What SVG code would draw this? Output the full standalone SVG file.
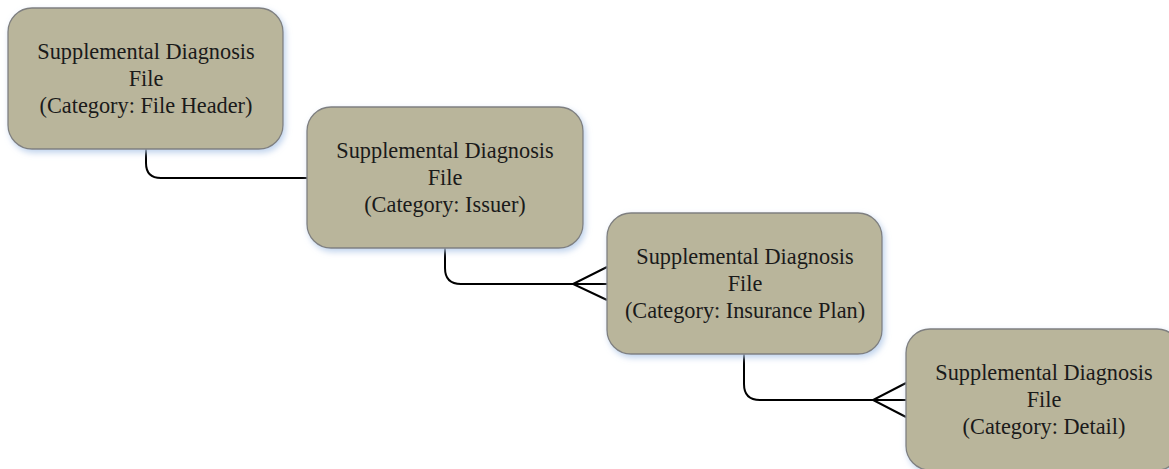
<svg xmlns="http://www.w3.org/2000/svg" width="1169" height="469" viewBox="0 0 1169 469">
  <style>
    .entity { fill: #b9b59b; stroke: #7f7f7f; stroke-width: 1.3; filter: url(#glow); }
    .label { font-family: "Liberation Serif", "Times New Roman", serif; font-size: 22.3px; fill: #1a1a1a; text-anchor: middle; }
    .link { fill: none; stroke: #000; stroke-width: 2; }
  </style>
  <defs>
    <filter id="glow" x="-10%" y="-10%" width="125%" height="130%">
      <feGaussianBlur in="SourceAlpha" stdDeviation="3"/>
      <feOffset dx="2" dy="3" result="b"/>
      <feFlood flood-color="#b7cdea" flood-opacity="0.9"/>
      <feComposite in2="b" operator="in"/>
      <feMerge>
        <feMergeNode/>
        <feMergeNode in="SourceGraphic"/>
      </feMerge>
    </filter>
  </defs>
  <rect width="1169" height="469" fill="#ffffff"/>

  <!-- relationship lines -->
  <g id="connectors">
    <path class="link" d="M146 149 V163 Q146 178 161 178 H307"/>
    <path class="link" d="M445 248 V268 Q445 284 461 284 H607 M607 267 L573 284 L607 300"/>
    <path class="link" d="M744 354 V384 Q744 400 760 400 H906 M906 383 L873 400 L906 417"/>
  </g>

  <g id="file-header">
    <rect class="entity" x="8" y="8" width="275" height="141" rx="24"/>
    <text class="label" x="146" y="59">Supplemental Diagnosis</text>
    <text class="label" x="146" y="86">File</text>
    <text class="label" x="146" y="113">(Category: File Header)</text>
  </g>

  <g id="issuer">
    <rect class="entity" x="307" y="107" width="276" height="141" rx="24"/>
    <text class="label" x="445" y="158">Supplemental Diagnosis</text>
    <text class="label" x="445" y="185">File</text>
    <text class="label" x="445" y="212">(Category: Issuer)</text>
  </g>

  <g id="insurance-plan">
    <rect class="entity" x="607" y="213" width="275" height="141" rx="24"/>
    <text class="label" x="745" y="264">Supplemental Diagnosis</text>
    <text class="label" x="745" y="291">File</text>
    <text class="label" x="745" y="318">(Category: Insurance Plan)</text>
  </g>

  <g id="detail">
    <rect class="entity" x="906" y="329" width="275" height="141" rx="24"/>
    <text class="label" x="1044" y="380">Supplemental Diagnosis</text>
    <text class="label" x="1044" y="407">File</text>
    <text class="label" x="1044" y="434">(Category: Detail)</text>
  </g>
</svg>
